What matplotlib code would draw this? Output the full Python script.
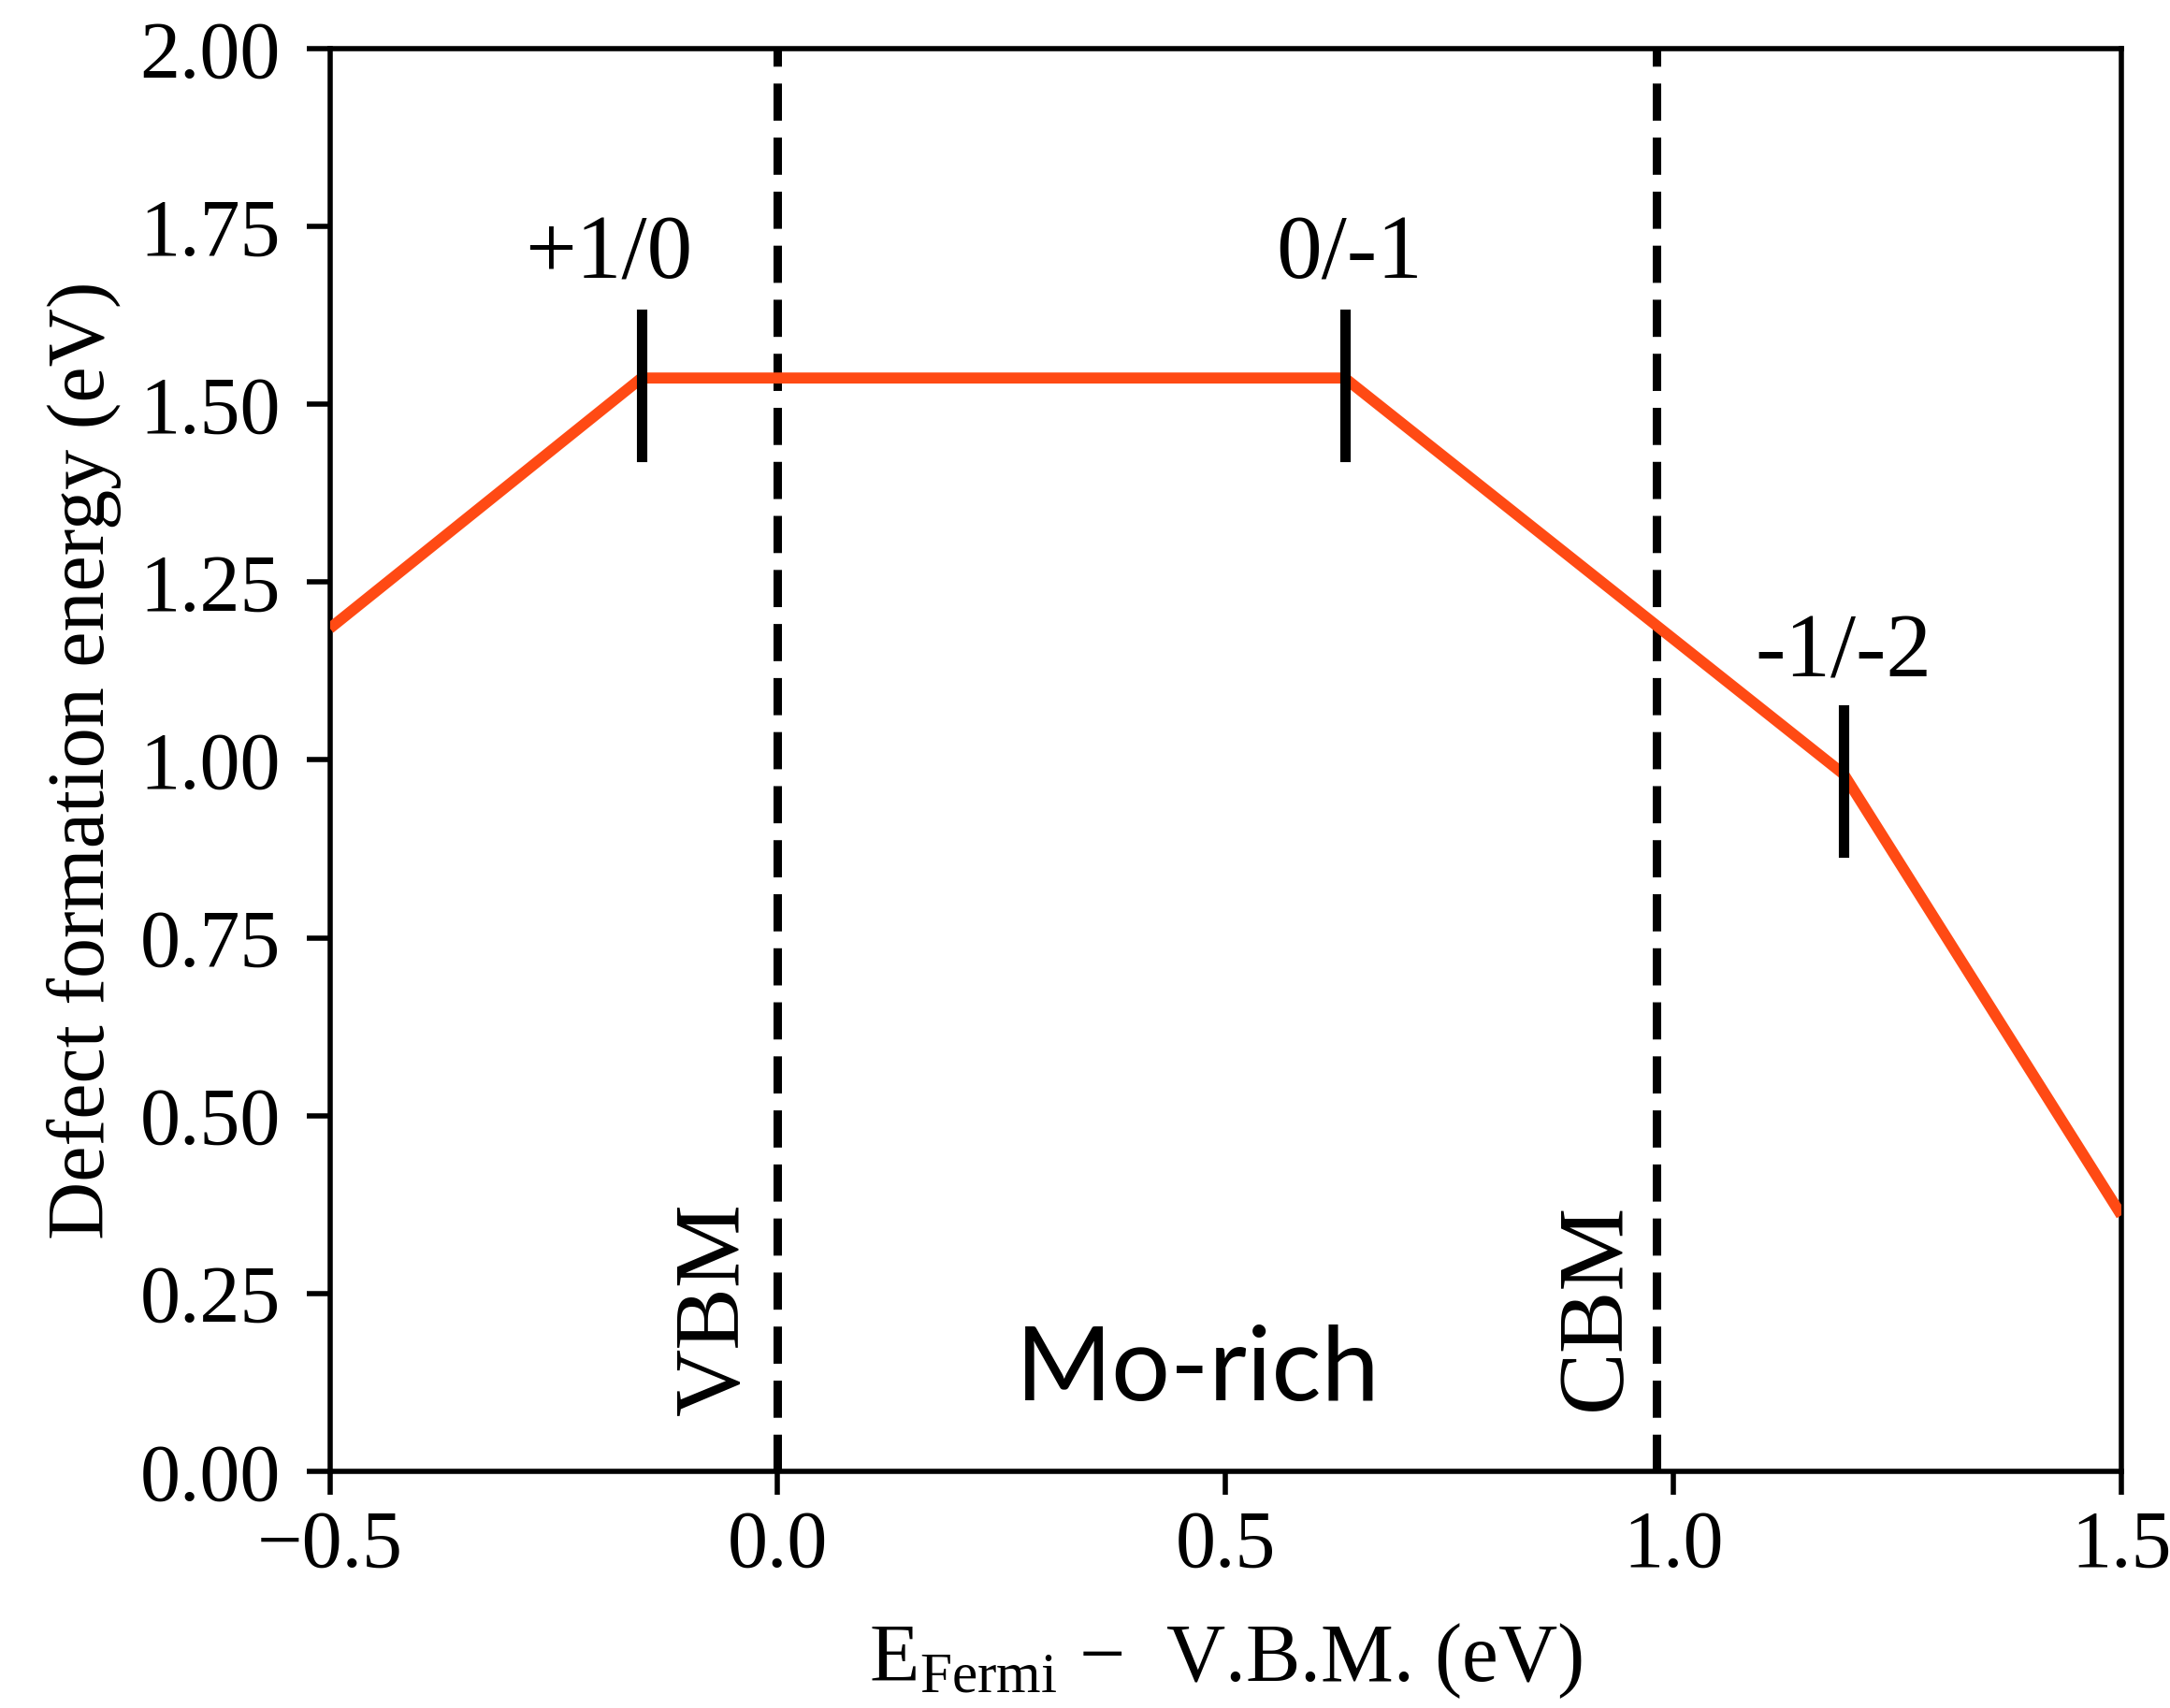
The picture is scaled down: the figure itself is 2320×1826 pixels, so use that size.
import matplotlib
matplotlib.use("Agg")
import matplotlib.pyplot as plt

plt.rcParams['font.family'] = ['Liberation Serif', 'DejaVu Serif']
plt.rcParams['mathtext.fontset'] = 'custom'
plt.rcParams['mathtext.rm'] = 'Liberation Serif'
plt.rcParams['axes.unicode_minus'] = True

# formation energy vs Fermi level (piecewise linear)
e_fermi = [-0.5, -0.152, 0.633, 1.19, 1.5]
e_form = [1.185, 1.537, 1.537, 0.98, 0.36]

vbm = 0.0
cbm = 0.981

# charge transition levels
trans_x = [-0.152, 0.633, 1.19]
trans_y = [1.537, 1.537, 0.98]
trans_labels = ['+1/0', '0/-1', '-1/-2']
label_x = [-0.189, 0.638, 1.19]
label_y = [1.677, 1.677, 1.117]

fig = plt.figure(figsize=(23.2, 18.26), dpi=100)
ax = fig.add_axes([0.152, 0.1386, 0.8256, 0.8329])

ax.plot(e_fermi, e_form, color='#ff4a14', lw=8.5, solid_capstyle='butt', zorder=3)

for x in [vbm, cbm]:
    ax.axvline(x, color='black', lw=6.5, dashes=(4.4, 2.0), zorder=2)

for x, y in zip(trans_x, trans_y):
    ax.plot([x, x], [y - 0.11, y + 0.09], color='black', lw=8, zorder=4)

for x, y, s in zip(label_x, label_y, trans_labels):
    ax.text(x, y, s, fontsize=70, ha='center', va='baseline')

ax.text(-0.045, 0.228, 'VBM', fontsize=72, rotation=90, rotation_mode='anchor',
        ha='center', va='baseline')
ax.text(0.939, 0.232, 'CBM', fontsize=72, rotation=90, rotation_mode='anchor',
        ha='center', va='baseline')
ax.text(0.469, 0.10, 'Mo-rich', fontsize=80, ha='center', va='baseline',
        family=['Lato', 'DejaVu Sans'])

ax.set_xlim(-0.5, 1.5)
ax.set_ylim(0, 2)
ax.set_xticks([-0.5, 0.0, 0.5, 1.0, 1.5])
ax.set_yticks([0, 0.25, 0.5, 0.75, 1.0, 1.25, 1.5, 1.75, 2.0])
ax.set_yticklabels(['0.00', '0.25', '0.50', '0.75', '1.00', '1.25', '1.50', '1.75', '2.00'])
ax.tick_params(direction='out', length=18, width=4, labelsize=62, pad=12)
ax.tick_params(axis='y', pad=20)
for sp in ax.spines.values():
    sp.set_linewidth(4)

ax.set_xlabel(r'$\mathrm{E_{Fermi}}$ $-$  V.B.M. (eV)', fontsize=63, labelpad=28)
ax.set_ylabel('Defect formation energy (eV)', fontsize=62, labelpad=14)

fig.savefig('out.png', dpi=100, facecolor='white')
